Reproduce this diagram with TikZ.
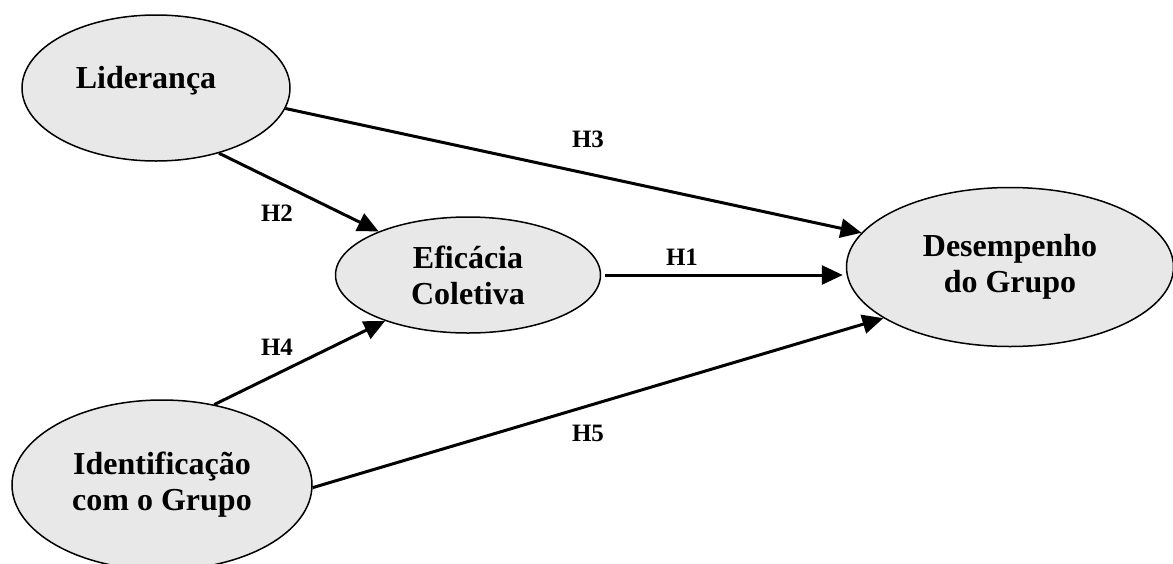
\documentclass[tikz,border=0pt]{standalone}
\usepackage{fontspec}
\setmainfont{Liberation Serif}
\usetikzlibrary{arrows.meta,shapes.geometric}
\definecolor{elfill}{RGB}{232,232,232}

\begin{document}
\begin{tikzpicture}[x=1pt,y=-1pt,
  vtxt/.style={font=\fontsize{32}{36}\selectfont\bfseries,align=center},
  var/.style={ellipse,draw,line width=1.5pt,fill=elfill,inner sep=0pt,vtxt},
  hyp/.style={font=\fontsize{25}{30}\selectfont\bfseries,inner sep=0pt},
  path/.style={line width=3pt,-{Triangle[length=21pt,width=19pt]}}]
  \useasboundingbox (0,0) rectangle (1173,563);
  % latent variables
  \node[var,minimum width=268pt,minimum height=146pt,
    label={[vtxt,xshift=-10pt,yshift=7pt]center:Liderança}] (lid) at (156,88) {};
  \node[var,minimum width=265pt,minimum height=116pt] (efc) at (468,275) {Eficácia\\Coletiva};
  \node[var,minimum width=327pt,minimum height=159pt] (des) at (1010,267) {Desempenho\\do Grupo};
  \node[var,minimum width=300pt,minimum height=170pt] (idg) at (162,485) {Identificação\\com o Grupo};
  % hypotheses
  \draw[path] (lid.-46) -- (efc.154);
  \draw[path] (lid.-9) -- (des.167);
  \draw[path] ([xshift=4pt]efc.east) -- ([xshift=-3pt]efc.east -| des.west);
  \draw[path] (idg.57) -- (efc.209);
  \draw[path] (idg.-1) -- (des.202);
  \node[hyp] (h1) at (682,257) {H1};
  \node[hyp] (h2) at (277,213) {H2};
  \node[hyp] (h3) at (588,139) {H3};
  \node[hyp] (h4) at (277,347) {H4};
  \node[hyp] (h5) at (588,433) {H5};
\end{tikzpicture}
\end{document}
